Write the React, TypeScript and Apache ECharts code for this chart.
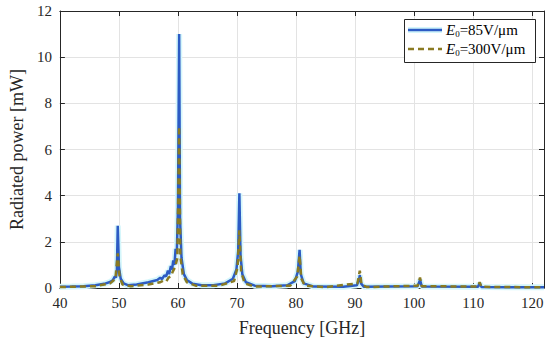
import React, { useEffect, useRef } from "react";
import * as echarts from "echarts";

const freq85 = [40, 42, 44, 46, 47.5, 48.5, 49.0, 49.3, 49.5, 49.65, 49.8, 50.0, 50.3, 50.8, 51.5, 53, 55, 56.5, 57.0, 57.3, 57.7, 58.0, 58.3, 58.5, 58.8, 59.0, 59.2, 59.4, 59.6, 59.8, 60.0, 60.2, 60.35, 60.6, 61.0, 61.5, 62.5, 64, 66, 68, 69.3, 69.9, 70.2, 70.4, 70.6, 70.9, 71.5, 73, 76, 78.5, 79.8, 80.3, 80.6, 80.8, 81.3, 83, 88, 90.3, 90.7, 90.8, 91.0, 91.5, 100.6, 101.0, 101.3, 110.8, 111.1, 111.4, 122];
const power85 = [0.05, 0.06, 0.08, 0.12, 0.18, 0.26, 0.35, 0.5, 0.45, 0.75, 2.7, 0.9, 0.4, 0.2, 0.12, 0.15, 0.25, 0.35, 0.45, 0.38, 0.55, 0.5, 0.75, 0.6, 0.95, 0.8, 1.2, 1.0, 1.7, 1.5, 3.5, 11.0, 3.0, 1.3, 0.6, 0.35, 0.18, 0.12, 0.12, 0.2, 0.4, 0.8, 1.6, 4.1, 1.4, 0.6, 0.25, 0.1, 0.08, 0.12, 0.3, 0.7, 1.65, 0.6, 0.2, 0.06, 0.05, 0.12, 0.4, 0.55, 0.2, 0.05, 0.08, 0.35, 0.06, 0.05, 0.2, 0.04, 0.03];

const freq300 = [40, 46, 48.5, 49.4, 49.8, 50.1, 50.6, 52, 55, 57.0, 57.5, 58.0, 58.4, 58.8, 59.1, 59.5, 59.9, 60.2, 60.4, 60.8, 61.5, 63, 67, 69.5, 70.1, 70.4, 70.7, 71.3, 73, 79, 80.2, 80.6, 80.9, 81.5, 85, 90.4, 90.8, 91.1, 92, 100.6, 101.0, 101.3, 110.8, 111.1, 111.4, 122];
const power300 = [0.04, 0.08, 0.2, 0.4, 1.5, 0.5, 0.15, 0.08, 0.15, 0.25, 0.32, 0.28, 0.45, 0.5, 0.7, 0.9, 1.3, 7.0, 1.4, 0.6, 0.25, 0.1, 0.1, 0.3, 0.9, 2.5, 0.7, 0.2, 0.06, 0.1, 0.5, 1.4, 0.4, 0.1, 0.04, 0.2, 0.75, 0.15, 0.04, 0.1, 0.45, 0.08, 0.06, 0.25, 0.05, 0.03];

const xTicks = [40, 50, 60, 70, 80, 90, 100, 110, 120];
const yTicks = [0, 2, 4, 6, 8, 10, 12];
const legendRest = ["=85V/μm", "=300V/μm"];

const FONT = "Liberation Serif";
const BLUE = "#2c5bc4";
const OLIVE = "#8a7a22";

export default function App() {
  const ref = useRef<HTMLDivElement>(null);
  useEffect(() => {
    if (!ref.current) return;
    const chart = echarts.init(ref.current, undefined, { renderer: "svg" });
    const pts = (xs: number[], ys: number[]) => xs.map((x, i) => [x, ys[i]]);
    const axisCommon = {
      type: "value" as const,
      axisLine: { show: true, onZero: false, lineStyle: { color: "#262626", width: 1 } },
      axisTick: { show: true, inside: true, length: 5, lineStyle: { color: "#262626" } },
      splitLine: { show: false },
    };
    const rich = {
      e: { fontFamily: FONT, fontStyle: "italic", fontSize: 15, fill: "#000", color: "#000" },
      s: { fontFamily: FONT, fontSize: 9, fill: "#000", color: "#000", padding: [7, 0, 0, 0] },
      t: { fontFamily: FONT, fontSize: 15, fill: "#000", color: "#000" },
    };
    chart.setOption({
      animation: false,
      backgroundColor: "#ffffff",
      grid: { left: 47, right: 6, top: 11, bottom: 56 },
      xAxis: [
        {
          ...axisCommon,
          min: 40,
          max: 122,
          interval: 10,
          position: "bottom",
          splitLine: { show: true, lineStyle: { color: "#e3e3e3", width: 1 } },
          axisLabel: {
            color: "#262626",
            fontFamily: FONT,
            fontSize: 15,
            margin: 7,
            showMaxLabel: false,
            formatter: (v: number) => (xTicks.includes(v) ? String(v) : ""),
          },
          name: "Frequency [GHz]",
          nameLocation: "middle",
          nameGap: 31,
          nameTextStyle: { color: "#262626", fontFamily: FONT, fontSize: 18 },
        },
        {
          ...axisCommon,
          min: 40,
          max: 122,
          interval: 10,
          position: "top",
          axisLabel: { show: false },
        },
      ],
      yAxis: [
        {
          ...axisCommon,
          min: 0,
          max: 12,
          interval: 2,
          position: "left",
          splitLine: { show: true, lineStyle: { color: "#e3e3e3", width: 1 } },
          axisLabel: {
            color: "#262626",
            fontFamily: FONT,
            fontSize: 15,
            margin: 8,
            formatter: (v: number) => (yTicks.includes(v) ? String(v) : ""),
          },
          name: "Radiated power [mW]",
          nameLocation: "middle",
          nameGap: 28,
          nameTextStyle: { color: "#262626", fontFamily: FONT, fontSize: 18 },
        },
        {
          ...axisCommon,
          min: 0,
          max: 12,
          interval: 2,
          position: "right",
          axisLabel: { show: false },
        },
      ],
      graphic: [
        {
          type: "rect",
          shape: { x: 404.5, y: 19.5, width: 131, height: 43 },
          style: { fill: "#ffffff", stroke: "#262626", lineWidth: 1 },
          z: 100,
        },
        {
          type: "line",
          shape: { x1: 408, y1: 30, x2: 442, y2: 30 },
          style: { stroke: "#d4f6fb", lineWidth: 6 },
          z: 101,
        },
        {
          type: "line",
          shape: { x1: 408, y1: 30, x2: 442, y2: 30 },
          style: { stroke: BLUE, lineWidth: 2.5 },
          z: 102,
        },
        {
          type: "line",
          shape: { x1: 408, y1: 49, x2: 442, y2: 49 },
          style: { stroke: OLIVE, lineWidth: 2.5, lineDash: [6, 4] },
          z: 102,
        },
        {
          type: "text",
          x: 446,
          y: 30,
          style: { text: `{e|E}{s|0}{t|${legendRest[0]}}`, rich, verticalAlign: "middle", fill: "#000" },
          z: 102,
        },
        {
          type: "text",
          x: 446,
          y: 49,
          style: { text: `{e|E}{s|0}{t|${legendRest[1]}}`, rich, verticalAlign: "middle", fill: "#000" },
          z: 102,
        },
      ],
      series: [
        {
          name: "halo",
          type: "line",
          data: pts(freq85, power85),
          showSymbol: false,
          symbol: "none",
          lineStyle: { color: "#d4f6fb", width: 6 },
          z: 1,
          silent: true,
        },
        {
          name: "a",
          type: "line",
          data: pts(freq85, power85),
          showSymbol: false,
          symbol: "none",
          lineStyle: { color: BLUE, width: 2.5 },
          itemStyle: { color: BLUE },
          z: 2,
        },
        {
          name: "b",
          type: "line",
          data: pts(freq300, power300),
          showSymbol: false,
          symbol: "none",
          lineStyle: { color: OLIVE, width: 2.5, type: [6, 4] },
          itemStyle: { color: OLIVE },
          z: 3,
        },
      ],
    });
    return () => chart.dispose();
  }, []);
  return <div ref={ref} style={{ position: "absolute", left: 0, top: 0, width: 550, height: 344 }} />;
}
